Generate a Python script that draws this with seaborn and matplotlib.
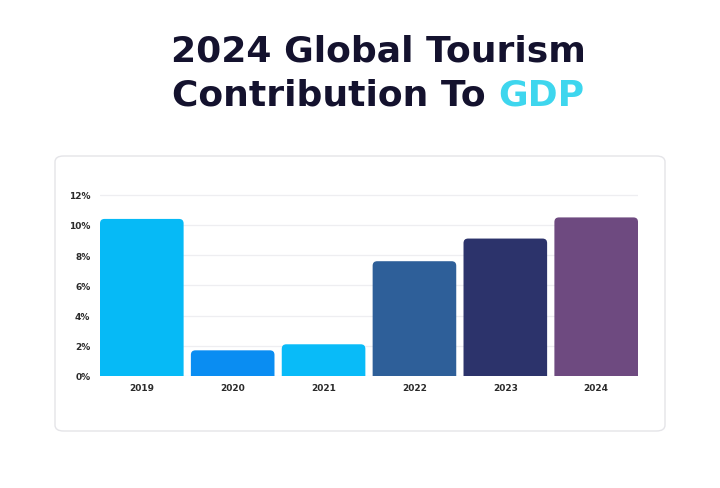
import matplotlib
matplotlib.use("Agg")
import matplotlib.pyplot as plt
from matplotlib.patches import FancyBboxPatch
import pandas as pd
import seaborn as sns

# data
years = ["2019", "2020", "2021", "2022", "2023", "2024"]
gdp_share = [10.4, 1.7, 2.1, 7.6, 9.1, 10.5]
bar_colors = ["#06BAF6", "#0A8DF2", "#09BBF8", "#2E5F99", "#2C336B", "#6E4A80"]
y_ticks = [0, 2, 4, 6, 8, 10, 12]
y_tick_labels = [f"{t}%" for t in y_ticks]

df = pd.DataFrame({"Year": years, "Share": gdp_share})

sns.set_theme(style="white")
plt.rcParams["font.family"] = ["DejaVu Sans"]

W, H = 720, 489
fig = plt.figure(figsize=(W / 100, H / 100), dpi=100)
fig.patch.set_facecolor("white")

# card behind the chart
card = FancyBboxPatch((55 / W, 1 - 432 / H), 610 / W, 275 / H,
                      boxstyle="round,pad=0,rounding_size=0.012",
                      transform=fig.transFigure, facecolor="white",
                      edgecolor="#E4E4E8", linewidth=1.0, zorder=-5)
fig.patches.append(card)

ax = fig.add_axes([100 / W, 1 - 377 / H, 538 / W, 182 / H])
ax.set_facecolor("none")
ax.set_zorder(2)

sns.barplot(data=df, x="Year", y="Share", hue="Year", palette=bar_colors,
            width=0.92, legend=False, ax=ax, saturation=1)

ax.set_xlim(-0.46, 5.46)
ax.set_ylim(0, 12.05)

# swap plain bars for rounded ones (bottom corners pushed below the axis and clipped)
bars = list(ax.patches)
px_per_x = 538 / 5.92
px_per_y = 182 / 12.0
for p in bars:
    x, w, h = p.get_x(), p.get_width(), p.get_height()
    fc = p.get_facecolor()
    p.remove()
    rb = FancyBboxPatch((x, -0.6), w, h + 0.6,
                        boxstyle="round,pad=0,rounding_size=0.05",
                        mutation_aspect=px_per_x / px_per_y,
                        facecolor=fc, edgecolor="none", zorder=3)
    ax.add_patch(rb)
    rb.set_clip_path(ax.patch)

ax.set_yticks(y_ticks)
ax.set_yticklabels(y_tick_labels)
ax.grid(axis="y", color="#EEEEF1", linewidth=0.9, zorder=0)
ax.set_axisbelow(True)
for s in ax.spines.values():
    s.set_visible(False)
ax.set_xlabel("")
ax.set_ylabel("")
ax.tick_params(axis="both", length=0, labelsize=6.5, labelcolor="#2A2A2A")
ax.tick_params(axis="y", pad=7)
ax.tick_params(axis="x", pad=5)
for lbl in ax.get_xticklabels() + ax.get_yticklabels():
    lbl.set_fontweight("bold")

# title, two lines, last word in cyan
title_kw = dict(fontsize=26, fontweight="bold", color="#14122E",
                ha="center", va="center")
fig.text(378 / W, 1 - 52 / H, "2024 Global Tourism", **title_kw)

renderer = fig.canvas.get_renderer()
t1 = fig.text(0, 1 - 96 / H, "Contribution To ", fontsize=26, fontweight="bold",
              color="#14122E", ha="left", va="center")
t2 = fig.text(0, 1 - 96 / H, "GDP", fontsize=26, fontweight="bold",
              color="#3ED6EE", ha="left", va="center")
w1 = t1.get_window_extent(renderer).width
w2 = t2.get_window_extent(renderer).width
start = 378 - (w1 + w2) / 2
t1.set_x(start / W)
t2.set_x((start + w1) / W)

fig.savefig("out.png", dpi=100, facecolor="white")
